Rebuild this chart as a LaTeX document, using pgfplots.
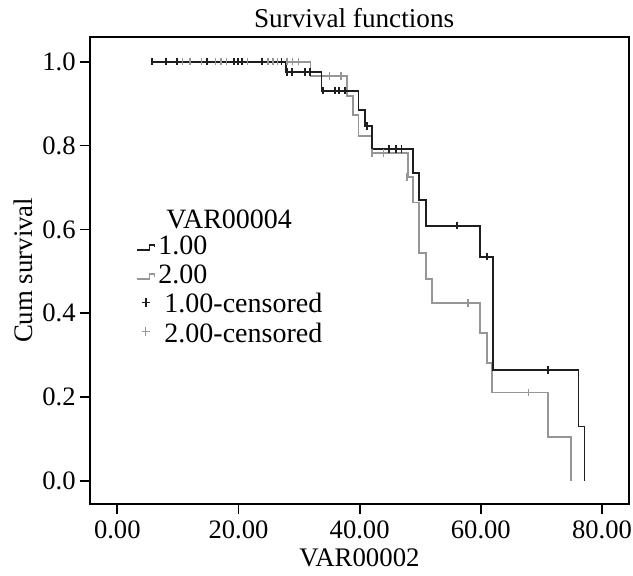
\documentclass[border=0pt]{standalone}
\usepackage{fontspec}
\setmainfont{Liberation Serif}
\usepackage{pgfplots}
\pgfplotsset{compat=1.18}
\definecolor{kmblack}{RGB}{30,30,30}
\definecolor{kmgray}{RGB}{150,150,150}
\newcommand{\tickfont}{\fontsize{13.3}{16}\selectfont}
\newcommand{\labfont}{\fontsize{13.4}{16}\selectfont}
\begin{document}
\begin{tikzpicture}
\useasboundingbox (-45pt,-35.5pt) rectangle (271.5pt,252pt);
\begin{axis}[
  scale only axis, width=269.5pt, height=233.65pt,
  xmin=-4.506, xmax=84.45, ymin=-0.0549, ymax=1.0596,
  axis line style={line width=1pt, black},
  tick align=outside, tick pos=left, major tick length=4.8pt,
  major tick style={line width=0.9pt, black},
  xtick={0,20,40,60,80}, ytick={0,0.2,0.4,0.6,0.8,1},
  /pgf/number format/assume math mode=true,
  xticklabel style={font=\tickfont, /pgf/number format/.cd, fixed, fixed zerofill, precision=2},
  yticklabel style={font=\tickfont, inner sep=2.2pt, /pgf/number format/.cd, fixed, fixed zerofill, precision=1},
  title={Survival functions},
  every axis title/.style={at={(axis description cs:0.49,1)}, anchor=base, yshift=4.4pt, inner sep=0pt, font=\fontsize{13.6}{16}\selectfont},
  xlabel={VAR00002}, ylabel={Cum survival},
  every axis x label/.style={at={(axis description cs:0.5,-0.1348)}, anchor=base, inner sep=0pt, font=\labfont},
  every axis y label/.style={at={(axis description cs:-0.1058,0.5)}, rotate=90, anchor=base, inner sep=0pt, font=\labfont},
  legend style={at={(axis description cs:0.0866,0.6398)}, anchor=north west, draw=none, fill=none,
    inner sep=0pt, outer sep=0pt, font=\fontsize{14}{16}\selectfont, row sep=1.65pt,
    nodes={inner sep=0.5pt, text height=9.5pt, text depth=2.5pt},
    /tikz/every odd column/.append style={column sep=1pt}},
  legend cell align=left,
]
% group 2 (gray) survival steps
\addplot[const plot, kmgray, line width=0.9pt, forget plot] coordinates {
  (10.6,1) (31.9,0.966) (37.9,0.919) (38.9,0.873) (39.8,0.822) (42.1,0.782)
  (48.0,0.725) (48.8,0.664) (49.8,0.543) (51.0,0.481) (52.0,0.424) (59.9,0.352)
  (61.0,0.282) (61.9,0.211) (71.1,0.104) (74.9,0)
};
% group 1 (black) survival steps
\addplot[const plot, kmblack, line width=0.9pt, forget plot] coordinates {
  (5.7,1) (27.8,0.975) (33.7,0.931) (39.8,0.885) (40.9,0.846) (42.1,0.792)
  (48.8,0.734) (49.8,0.671) (51.0,0.609) (59.9,0.535) (62.0,0.265) (76.1,0.130)
  (77.1,0)
};
% censored group 2
\addplot[only marks, mark=|, mark size=1.9pt, kmgray, mark options={line width=0.75pt}, forget plot] coordinates {
  (10.8,1) (12.0,1) (13.9,1) (16.2,1) (17.1,1) (18.0,1) (21.5,1) (24.9,1) (25.7,1)
  (26.4,1) (28.0,1) (28.9,1) (29.9,1) (35.0,0.966) (36.9,0.966) (42.0,0.782)
  (43.9,0.782) (47.8,0.725) (57.9,0.424) (67.9,0.211)
};
% censored group 1
\addplot[only marks, mark=|, mark size=1.9pt, kmblack, mark options={line width=0.95pt}, forget plot] coordinates {
  (5.7,1) (8.0,1) (9.9,1) (14.8,1) (19.2,1) (19.9,1) (20.6,1) (23.9,1) (27.1,1)
  (28.0,0.975) (28.9,0.975) (31.0,0.975) (31.8,0.975) (33.9,0.931) (35.9,0.931)
  (36.6,0.931) (37.6,0.931) (41.2,0.846) (44.9,0.792) (46.0,0.792) (46.9,0.792)
  (56.0,0.609) (61.0,0.535) (71.1,0.265)
};
\addlegendimage{empty legend}
\addlegendentry[text height=11.3pt, text depth=0.7pt]{\hspace*{4pt}VAR00004}
\addlegendimage{legend image code/.code={\draw[kmblack, line width=0.8pt] (0pt,-1.3pt) -- (6pt,-1.3pt) -- (6pt,1.3pt) -- (8.6pt,1.3pt) -- (8.6pt,0pt);}}
\addlegendentry{1.00}
\addlegendimage{legend image code/.code={\draw[kmgray, line width=0.8pt] (0pt,-1.3pt) -- (6pt,-1.3pt) -- (6pt,1.3pt) -- (8.6pt,1.3pt) -- (8.6pt,0pt);}}
\addlegendentry{2.00}
\addlegendimage{legend image code/.code={\draw[kmblack, line width=0.7pt] (2.1pt,1.8pt) -- (6.3pt,1.8pt) (4.2pt,-0.3pt) -- (4.2pt,3.9pt);}}
\addlegendentry{\hspace*{3pt}1.00-censored}
\addlegendimage{legend image code/.code={\draw[kmgray, line width=0.6pt] (2.1pt,1.8pt) -- (6.3pt,1.8pt) (4.2pt,-0.3pt) -- (4.2pt,3.9pt);}}
\addlegendentry{\hspace*{3pt}2.00-censored}
\end{axis}
\end{tikzpicture}
\end{document}
